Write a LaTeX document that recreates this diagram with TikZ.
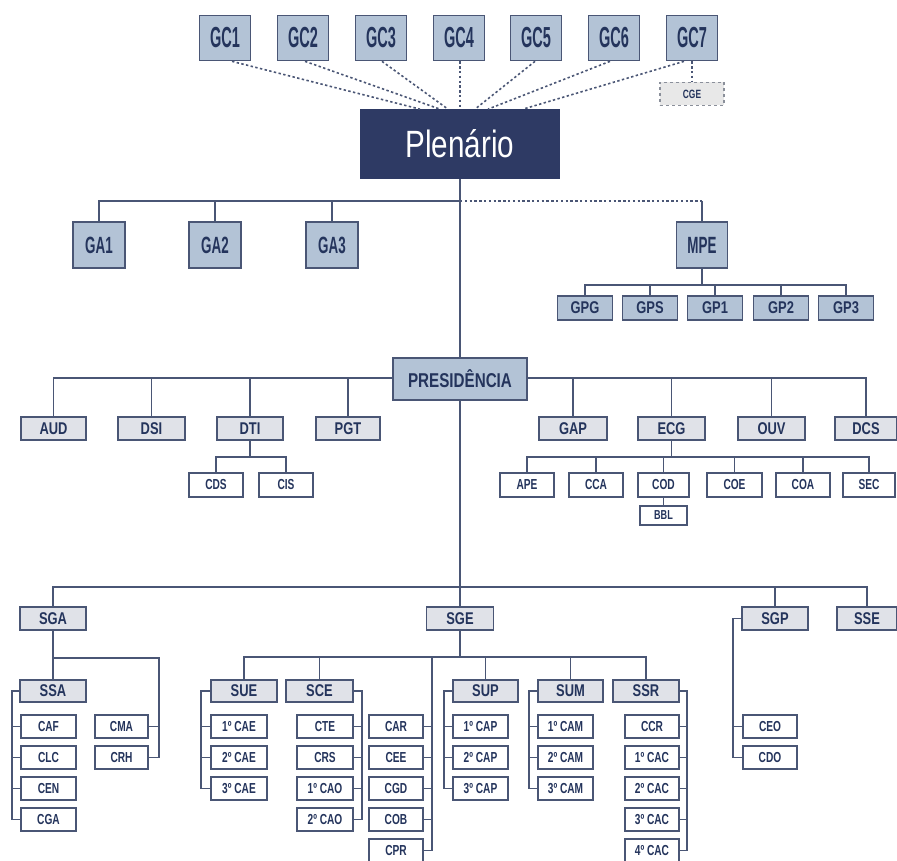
\documentclass[tikz,border=0pt]{standalone}
\usepackage{fontspec}
\setmainfont{Liberation Sans}
\newfontfamily\fGC{Liberation Sans}[FakeStretch=0.5]
\newfontfamily\fGA{Liberation Sans}[FakeStretch=0.57]
\newfontfamily\fMid{Liberation Sans}[FakeStretch=0.76]
\newfontfamily\fSm{Liberation Sans}[FakeStretch=0.7]
\newfontfamily\fPl{Liberation Sans}[FakeStretch=0.78]
\usetikzlibrary{calc}

\definecolor{navy}{HTML}{24345C}
\definecolor{linec}{HTML}{4A5675}
\definecolor{bluebox}{HTML}{B3C3D6}
\definecolor{graybox}{HTML}{E0E2E8}
\definecolor{plenfill}{HTML}{2E3A64}
\definecolor{cgefill}{HTML}{E8E8E8}
\definecolor{cgeline}{HTML}{8A8F9A}

\tikzset{
  box/.style={draw=linec, line width=1.7pt, text=navy, inner sep=0pt, anchor=center},
  gcbox/.style={box, fill=bluebox, minimum width=51pt, minimum height=45pt,
    font=\fGC\bfseries\fontsize{29}{29}\selectfont},
  gabox/.style={box, fill=bluebox, minimum width=52pt, minimum height=46pt,
    font=\fGA\bfseries\fontsize{23.5}{23.5}\selectfont},
  gpbox/.style={box, fill=bluebox, minimum width=55pt, minimum height=24pt,
    font=\fMid\bfseries\fontsize{17}{17}\selectfont},
  presbox/.style={box, fill=bluebox, minimum width=134pt, minimum height=42pt,
    font=\fMid\bfseries\fontsize{20}{20}\selectfont},
  lvtwo/.style={box, fill=graybox, minimum height=23pt,
    font=\fMid\bfseries\fontsize{17}{17}\selectfont},
  lvthree/.style={box, fill=white, minimum height=23pt,
    font=\fSm\bfseries\fontsize{14.5}{14.5}\selectfont},
  plenbox/.style={box, draw=plenfill, fill=plenfill, text=white,
    minimum width=199pt, minimum height=68pt,
    font=\fPl\fontsize{38}{38}\selectfont},
  cgebox/.style={box, draw=cgeline, dashed, line width=1.2pt, fill=cgefill,
    minimum width=64pt, minimum height=23pt,
    font=\fSm\bfseries\fontsize{12}{12}\selectfont},
  conn/.style={draw=linec, line width=1.7pt},
  dconn/.style={draw=linec, line width=1.6pt, dash pattern=on 2.4pt off 2.4pt},
}

\begin{document}
\begin{tikzpicture}[x=1pt, y=-1pt]
\useasboundingbox (0,0) rectangle (897,861);
\fill[white] (0,0) rectangle (897,861);
\clip (0,0) rectangle (897,861);

% ---------- councils and plenary ----------
\node[gcbox] (GC1) at (225,38) {GC1};
\node[gcbox] (GC2) at (303,38) {GC2};
\node[gcbox] (GC3) at (381,38) {GC3};
\node[gcbox] (GC4) at (459,38) {GC4};
\node[gcbox] (GC5) at (536,38) {GC5};
\node[gcbox] (GC6) at (614,38) {GC6};
\node[gcbox] (GC7) at (692,38) {GC7};
\node[cgebox] (CGE) at (692,94) {CGE};
\node[plenbox] (plen) at (460,144) {Plenário};

\draw[dconn] ($(GC1.south)+(7,0)$) -- ($(plen.north)+(-40,0)$);
\draw[dconn] ($(GC2.south)+(2,0)$) -- ($(plen.north)+(-20,0)$);
\draw[dconn] ($(GC3.south)+(1,0)$) -- ($(plen.north)+(-12,0)$);
\draw[dconn] ($(GC4.south)+(1,0)$) -- (plen.north);
\draw[dconn] ($(GC5.south)+(-1,0)$) -- ($(plen.north)+(15,0)$);
\draw[dconn] ($(GC6.south)+(-4,0)$) -- ($(plen.north)+(28,0)$);
\draw[dconn] ($(GC7.south)+(-8,0)$) -- ($(plen.north)+(63,0)$);
\draw[dconn] (GC7.south) -- (CGE.north);

% ---------- GA and MPE ----------
\node[gabox] (GA1) at (99,245) {GA1};
\node[gabox] (GA2) at (215,245) {GA2};
\node[gabox] (GA3) at (332,245) {GA3};
\node[gabox, minimum width=51pt] (MPE) at (702,245) {MPE};
\coordinate (busGA) at (460,201);
\draw[conn] (GA1.north) -- (GA1.north |- busGA) -- (busGA);
\draw[conn] (GA2.north) -- (GA2.north |- busGA);
\draw[conn] (GA3.north) -- (GA3.north |- busGA);
\draw[dconn] (busGA) -- (MPE.north |- busGA);
\draw[conn] (MPE.north |- busGA) -- (MPE.north);

\node[gpbox] (GPG) at (585,308) {GPG};
\node[gpbox] (GPS) at (650,308) {GPS};
\node[gpbox] (GP1) at (715,308) {GP1};
\node[gpbox] (GP2) at (781,308) {GP2};
\node[gpbox] (GP3) at (846,308) {GP3};
\coordinate (yGP) at (0,285);
\draw[conn] (MPE.south) -- (MPE.south |- yGP);
\draw[conn] (GPG.north) -- (GPG.north |- yGP) -- (GP3.north |- yGP) -- (GP3.north);
\draw[conn] (GPS.north) -- (GPS.north |- yGP);
\draw[conn] (GP1.north) -- (GP1.north |- yGP);
\draw[conn] (GP2.north) -- (GP2.north |- yGP);

% ---------- presidency ----------
\coordinate (yPres) at (0,378);
\draw[conn] (plen.south) -- (460,378);
\node[lvtwo, minimum width=65pt] (AUD) at (53.5,428.5) {AUD};
\node[lvtwo, minimum width=67pt] (DSI) at (151.5,428.5) {DSI};
\node[lvtwo, minimum width=66pt] (DTI) at (250,428.5) {DTI};
\node[lvtwo, minimum width=64pt] (PGT) at (348,428.5) {PGT};
\node[lvtwo, minimum width=68pt] (GAP) at (573,428.5) {GAP};
\node[lvtwo, minimum width=67pt] (ECG) at (671.5,428.5) {ECG};
\node[lvtwo, minimum width=67pt] (OUV) at (771.5,428.5) {OUV};
\node[lvtwo, minimum width=62pt] (DCS) at (866,428.5) {DCS};
\draw[conn] (AUD.north) -- (AUD.north |- yPres) -- (DCS.north |- yPres) -- (DCS.north);
\foreach \n in {DSI,DTI,PGT,GAP,ECG,OUV}
  \draw[conn] (\n.north) -- (\n.north |- yPres);
\node[presbox] (pres) at (460,379) {PRESIDÊNCIA};

\coordinate (yDTI) at (0,457);
\node[lvthree, minimum width=54pt, minimum height=24pt] (CDS) at (216,485) {CDS};
\node[lvthree, minimum width=54pt, minimum height=24pt] (CIS) at (286,485) {CIS};
\draw[conn] (DTI.south) -- (DTI.south |- yDTI);
\draw[conn] (CDS.north) -- (CDS.north |- yDTI) -- (CIS.north |- yDTI) -- (CIS.north);

\node[lvthree, minimum width=54pt, minimum height=24pt] (APE) at (527,485) {APE};
\node[lvthree, minimum width=54pt, minimum height=24pt] (CCA) at (596,485) {CCA};
\node[lvthree, minimum width=51pt, minimum height=24pt] (COD) at (663.5,485) {COD};
\node[lvthree, minimum width=55pt, minimum height=24pt] (COE) at (734.5,485) {COE};
\node[lvthree, minimum width=54pt, minimum height=24pt] (COA) at (803,485) {COA};
\node[lvthree, minimum width=52pt, minimum height=24pt] (SEC) at (869,485) {SEC};
\node[lvthree, minimum width=47pt, minimum height=19pt,
  font=\fSm\bfseries\fontsize{13}{13}\selectfont] (BBL) at (663.5,515.5) {BBL};
\draw[conn] (ECG.south) -- (ECG.south |- yDTI);
\draw[conn] (APE.north) -- (APE.north |- yDTI) -- (SEC.north |- yDTI) -- (SEC.north);
\foreach \n in {CCA,COD,COE,COA}
  \draw[conn] (\n.north) -- (\n.north |- yDTI);
\draw[conn] (COD.south) -- (BBL.north);

% ---------- secretariats ----------
\node[lvtwo, minimum width=66pt] (SGA) at (53,618.5) {SGA};
\node[lvtwo, minimum width=67pt] (SGE) at (460,618.5) {SGE};
\node[lvtwo, minimum width=66pt] (SGP) at (775,618.5) {SGP};
\node[lvtwo, minimum width=60pt] (SSE) at (867,618.5) {SSE};
\coordinate (yS) at (0,587);
\draw[conn] (pres.south) -- (SGE.north);
\draw[conn] (SGA.north) -- (SGA.north |- yS) -- (SSE.north |- yS) -- (SSE.north);
\draw[conn] (SGP.north) -- (SGP.north |- yS);

% rows of the lowest level
\def\rA{726.5}\def\rB{757.5}\def\rC{788.5}\def\rD{819.5}\def\rE{850.5}

% SGA branch
\node[lvtwo, minimum width=66pt, minimum height=22pt] (SSA) at (53,691) {SSA};
\node[lvthree, minimum width=55pt] (CAF) at (48.5,\rA) {CAF};
\node[lvthree, minimum width=55pt] (CLC) at (48.5,\rB) {CLC};
\node[lvthree, minimum width=55pt] (CEN) at (48.5,\rC) {CEN};
\node[lvthree, minimum width=55pt] (CGA) at (48.5,\rD) {CGA};
\node[lvthree, minimum width=53pt] (CMA) at (121.5,\rA) {CMA};
\node[lvthree, minimum width=53pt] (CRH) at (121.5,\rB) {CRH};
\coordinate (ySGA) at (0,658);
\coordinate (bSGA) at (159,0);
\coordinate (bSSA) at (12,0);
\draw[conn] (SGA.south) -- (SSA.north);
\draw[conn] (SGA.south |- ySGA) -- (bSGA |- ySGA) -- (bSGA |- CRH.east) -- (CRH.east);
\draw[conn] (CMA.east) -- (CMA.east -| bSGA);
\draw[conn] (SSA.west) -- (SSA.west -| bSSA) -- (CGA.west -| bSSA) -- (CGA.west);
\foreach \n in {CAF,CLC,CEN}
  \draw[conn] (\n.west) -- (\n.west -| bSSA);

% SGE branch
\coordinate (ySGE) at (0,657);
\node[lvtwo, minimum width=66pt, minimum height=22pt] (SUE) at (244,691) {SUE};
\node[lvtwo, minimum width=67pt, minimum height=22pt] (SCE) at (319.5,691) {SCE};
\node[lvtwo, minimum width=65pt, minimum height=22pt] (SUP) at (485.5,691) {SUP};
\node[lvtwo, minimum width=65pt, minimum height=22pt] (SUM) at (570.5,691) {SUM};
\node[lvtwo, minimum width=66pt, minimum height=22pt] (SSR) at (646,691) {SSR};
\draw[conn] (SGE.south) -- (SGE.south |- ySGE);
\draw[conn] (SUE.north) -- (SUE.north |- ySGE) -- (SSR.north |- ySGE) -- (SSR.north);
\foreach \n in {SCE,SUP,SUM}
  \draw[conn] (\n.north) -- (\n.north |- ySGE);

\node[lvthree, minimum width=56pt] (CAEa) at (239,\rA) {1º CAE};
\node[lvthree, minimum width=56pt] (CAEb) at (239,\rB) {2º CAE};
\node[lvthree, minimum width=56pt] (CAEc) at (239,\rC) {3º CAE};
\coordinate (bSUE) at (201,0);
\draw[conn] (SUE.west) -- (SUE.west -| bSUE) -- (CAEc.west -| bSUE) -- (CAEc.west);
\foreach \n in {CAEa,CAEb}
  \draw[conn] (\n.west) -- (\n.west -| bSUE);

\node[lvthree, minimum width=56pt] (CTE) at (325,\rA) {CTE};
\node[lvthree, minimum width=56pt] (CRS) at (325,\rB) {CRS};
\node[lvthree, minimum width=56pt] (CAOa) at (325,\rC) {1º CAO};
\node[lvthree, minimum width=56pt] (CAOb) at (325,\rD) {2º CAO};
\coordinate (bSCE) at (362,0);
\draw[conn] (SCE.east) -- (SCE.east -| bSCE) -- (CAOb.east -| bSCE) -- (CAOb.east);
\foreach \n in {CTE,CRS,CAOa}
  \draw[conn] (\n.east) -- (\n.east -| bSCE);

\node[lvthree, minimum width=54pt] (CAR) at (396,\rA) {CAR};
\node[lvthree, minimum width=54pt] (CEE) at (396,\rB) {CEE};
\node[lvthree, minimum width=54pt] (CGD) at (396,\rC) {CGD};
\node[lvthree, minimum width=54pt] (COB) at (396,\rD) {COB};
\node[lvthree, minimum width=54pt] (CPR) at (396,\rE) {CPR};
\coordinate (bCAR) at (432,0);
\draw[conn] (bCAR |- ySGE) -- (bCAR |- CPR.east) -- (CPR.east);
\foreach \n in {CAR,CEE,CGD,COB}
  \draw[conn] (\n.east) -- (\n.east -| bCAR);

\node[lvthree, minimum width=55pt] (CAPa) at (480.5,\rA) {1º CAP};
\node[lvthree, minimum width=55pt] (CAPb) at (480.5,\rB) {2º CAP};
\node[lvthree, minimum width=55pt] (CAPc) at (480.5,\rC) {3º CAP};
\coordinate (bSUP) at (444,0);
\draw[conn] (SUP.west) -- (SUP.west -| bSUP) -- (CAPc.west -| bSUP) -- (CAPc.west);
\foreach \n in {CAPa,CAPb}
  \draw[conn] (\n.west) -- (\n.west -| bSUP);

\node[lvthree, minimum width=55pt] (CAMa) at (565.5,\rA) {1º CAM};
\node[lvthree, minimum width=55pt] (CAMb) at (565.5,\rB) {2º CAM};
\node[lvthree, minimum width=55pt] (CAMc) at (565.5,\rC) {3º CAM};
\coordinate (bSUM) at (529,0);
\draw[conn] (SUM.west) -- (SUM.west -| bSUM) -- (CAMc.west -| bSUM) -- (CAMc.west);
\foreach \n in {CAMa,CAMb}
  \draw[conn] (\n.west) -- (\n.west -| bSUM);

\node[lvthree, minimum width=54pt] (CCR) at (652,\rA) {CCR};
\node[lvthree, minimum width=54pt] (CACa) at (652,\rB) {1º CAC};
\node[lvthree, minimum width=54pt] (CACb) at (652,\rC) {2º CAC};
\node[lvthree, minimum width=54pt] (CACc) at (652,\rD) {3º CAC};
\node[lvthree, minimum width=54pt] (CACd) at (652,\rE) {4º CAC};
\coordinate (bSSR) at (687,0);
\draw[conn] (SSR.east) -- (SSR.east -| bSSR) -- (CACd.east -| bSSR) -- (CACd.east);
\foreach \n in {CCR,CACa,CACb,CACc}
  \draw[conn] (\n.east) -- (\n.east -| bSSR);

% SGP branch
\node[lvthree, minimum width=54pt] (CEO) at (770,\rA) {CEO};
\node[lvthree, minimum width=54pt] (CDO) at (770,\rB) {CDO};
\coordinate (bSGP) at (733,0);
\draw[conn] (SGP.west) -- (SGP.west -| bSGP) -- (CDO.west -| bSGP) -- (CDO.west);
\draw[conn] (CEO.west) -- (CEO.west -| bSGP);
\end{tikzpicture}
\end{document}
